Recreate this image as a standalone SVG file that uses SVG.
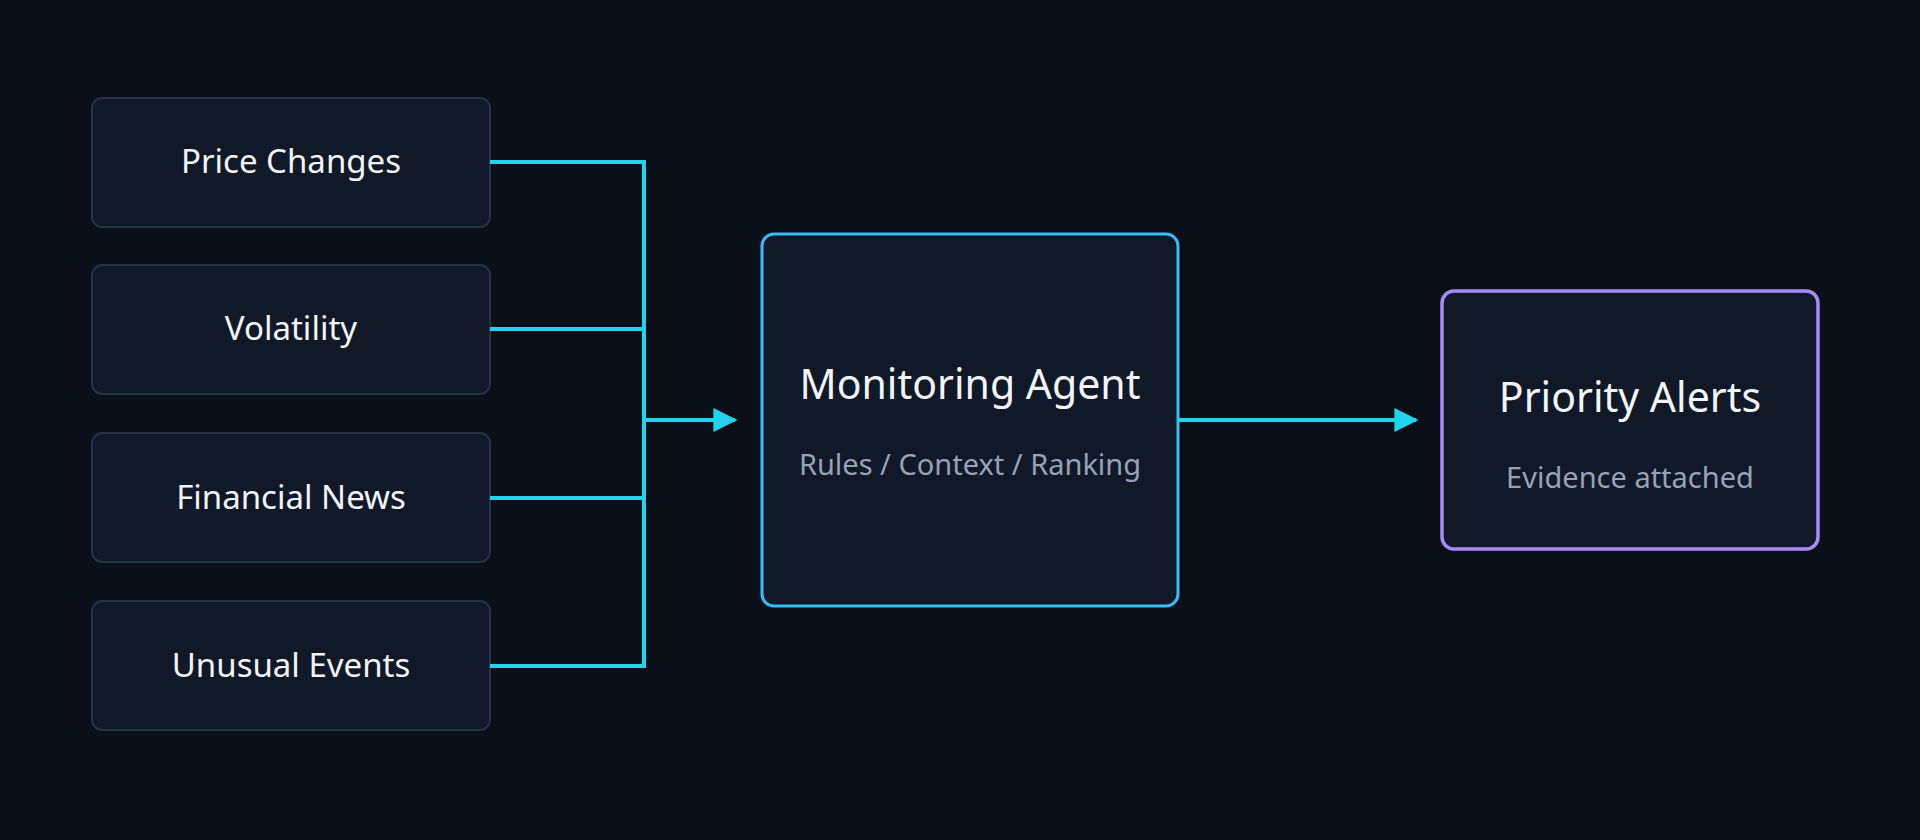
<svg xmlns="http://www.w3.org/2000/svg" width="1920" height="840" viewBox="0 0 1920 840">
<style>
.src{fill:#111827;stroke:#263244;stroke-width:2}
.t{font-family:"Noto Sans","Open Sans",sans-serif;fill:#f1f5f9;text-anchor:middle}
.s{font-family:"Noto Sans","Open Sans",sans-serif;fill:#94a3b8;text-anchor:middle;font-size:29px}
.c{stroke:#22d3ee;stroke-width:4;fill:none}
</style>
<defs><marker id="ah" viewBox="0 0 10 10" refX="9" refY="5" markerWidth="6" markerHeight="6" markerUnits="strokeWidth" orient="auto"><path d="M0,0L10,5L0,10z" fill="#22d3ee"/></marker></defs>
<rect width="1920" height="840" fill="#0b0f17"/>
<g id="n1"><rect class="src" x="92" y="98" width="398" height="129" rx="10"/><text class="t" x="291" y="173" font-size="33">Price Changes</text></g>
<g id="n2"><rect class="src" x="92" y="265" width="398" height="129" rx="10"/><text class="t" x="291" y="340" font-size="33">Volatility</text></g>
<g id="n3"><rect class="src" x="92" y="433" width="398" height="129" rx="10"/><text class="t" x="291" y="509" font-size="33">Financial News</text></g>
<g id="n4"><rect class="src" x="92" y="601" width="398" height="129" rx="10"/><text class="t" x="291" y="677" font-size="33">Unusual Events</text></g>
<g id="agent"><rect x="762" y="234" width="416" height="372" rx="12" fill="#111827" stroke="#38bdf8" stroke-width="3"/><text class="t" x="970" y="399" font-size="41">Monitoring Agent</text><text class="s" x="970" y="475">Rules / Context / Ranking</text></g>
<g id="alerts"><rect x="1442" y="291" width="376" height="258" rx="12" fill="#111827" stroke="#a78bfa" stroke-width="3.5"/><text class="t" x="1630" y="412" font-size="41">Priority Alerts</text><text class="s" x="1630" y="488">Evidence attached</text></g>
<g id="connectors">
<path class="c" d="M490,162H644M490,329H644M490,498H644M490,666H644M644,160V668"/>
<path class="c" d="M644,420H735" marker-end="url(#ah)"/>
<path class="c" d="M1178,420H1416" marker-end="url(#ah)"/>
</g>
</svg>
